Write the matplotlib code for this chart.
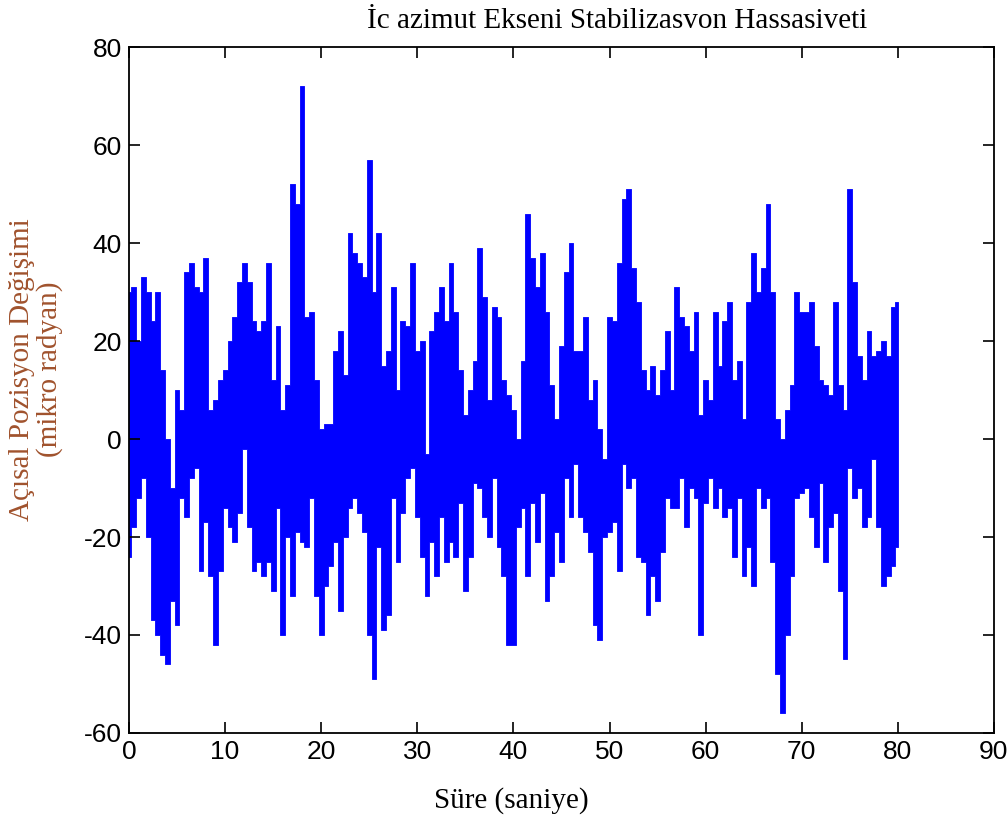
import numpy as np
import matplotlib
matplotlib.use("Agg")
import matplotlib.pyplot as plt

# envelope of the signal, read every 0.5 s (0 .. 80 s)
t_step = 0.5
upper = [
    30, 31, 20, 33, 30, 24, 30, 14, 0, -10,
    10, 6, 34, 36, 31, 30, 37, 6, 8, 12,
    14, 20, 25, 32, 36, 32, 24, 22, 24, 36,
    12, 23, 6, 11, 52, 48, 72, 25, 26, 12,
    2, 3, 3, 18, 22, 13, 42, 38, 36, 33,
    57, 30, 42, 15, 18, 31, 10, 24, 23, 36,
    18, 20, -3, 22, 26, 31, 24, 36, 26, 14,
    5, 10, 16, 39, 29, 8, 27, 25, 12, 9,
    6, 0, 16, 46, 37, 31, 38, 26, 11, 4,
    19, 34, 40, 18, 18, 25, 8, 12, 2, -4,
    25, 24, 36, 49, 51, 35, 28, 14, 10, 15,
    9, 14, 22, 10, 31, 25, 23, 18, 26, 5,
    12, 8, 26, 15, 24, 28, 12, 16, 4, 28,
    38, 30, 35, 48, 30, 4, 0, 6, 11, 30,
    26, 26, 28, 19, 12, 11, 9, 28, 11, 6,
    51, 32, 17, 12, 22, 17, 18, 20, 17, 27,
    28,
]
lower = [
    -24, -18, -12, -8, -20, -37, -40, -44, -46, -33,
    -38, -12, -16, -8, -6, -27, -17, -28, -42, -27,
    -14, -18, -21, -15, -2, -18, -27, -25, -28, -25,
    -31, -14, -40, -20, -32, -19, -21, -22, -12, -32,
    -40, -30, -26, -21, -35, -20, -14, -12, -15, -19,
    -40, -49, -22, -39, -36, -12, -25, -15, -8, -6,
    -16, -24, -32, -21, -28, -16, -25, -21, -24, -13,
    -31, -24, -9, -10, -16, -20, -8, -22, -28, -42,
    -42, -18, -14, -28, -13, -21, -11, -33, -28, -19,
    -25, -8, -16, -5, -16, -19, -23, -38, -41, -20,
    -19, -17, -27, -5, -10, -8, -24, -25, -36, -28,
    -33, -23, -12, -14, -14, -8, -18, -10, -12, -40,
    -13, -8, -14, -10, -16, -14, -24, -12, -28, -22,
    -30, -10, -14, -12, -25, -48, -56, -40, -28, -12,
    -11, -10, -16, -22, -9, -25, -18, -15, -31, -45,
    -6, -12, -10, -18, -16, -4, -18, -30, -28, -26,
    -22,
]

t = np.arange(len(upper)) * t_step

plt.rcParams['font.family'] = ['Liberation Sans', 'DejaVu Sans']
plt.rcParams['axes.unicode_minus'] = False
serif = ['Liberation Serif', 'DejaVu Serif']

fig = plt.figure(figsize=(10.08, 8.27), dpi=100)
ax = fig.add_axes([0.128, 0.1137, 0.858, 0.8293])

ax.fill_between(t, lower, upper, step='mid', color='#0000ff', linewidth=0.6,
                edgecolor='#0000ff')

ax.set_xlim(0, 90)
ax.set_ylim(-60, 80)
ax.set_xticks(range(0, 91, 10))
ax.set_yticks(range(-60, 81, 20))
ax.tick_params(direction='in', length=8, width=1.2, top=True, right=True,
               labelsize=19, pad=5)
for s in ax.spines.values():
    s.set_linewidth(1.3)

fig.text(0.612, 0.975, "İc azimut Ekseni Stabilizasvon Hassasiveti",
         family=serif, fontsize=21, ha='center', va='center')
fig.text(0.507, 0.032, "Süre (saniye)", family=serif, fontsize=21,
         ha='center', va='center')
fig.text(0.036, 0.553, "Açısal Pozisyon Değişimi\n(mikro radyan)",
         family=serif, fontsize=21, ha='center', va='center',
         rotation=90, color='#a0522d', linespacing=1.05)

fig.savefig("out.png", dpi=100)
